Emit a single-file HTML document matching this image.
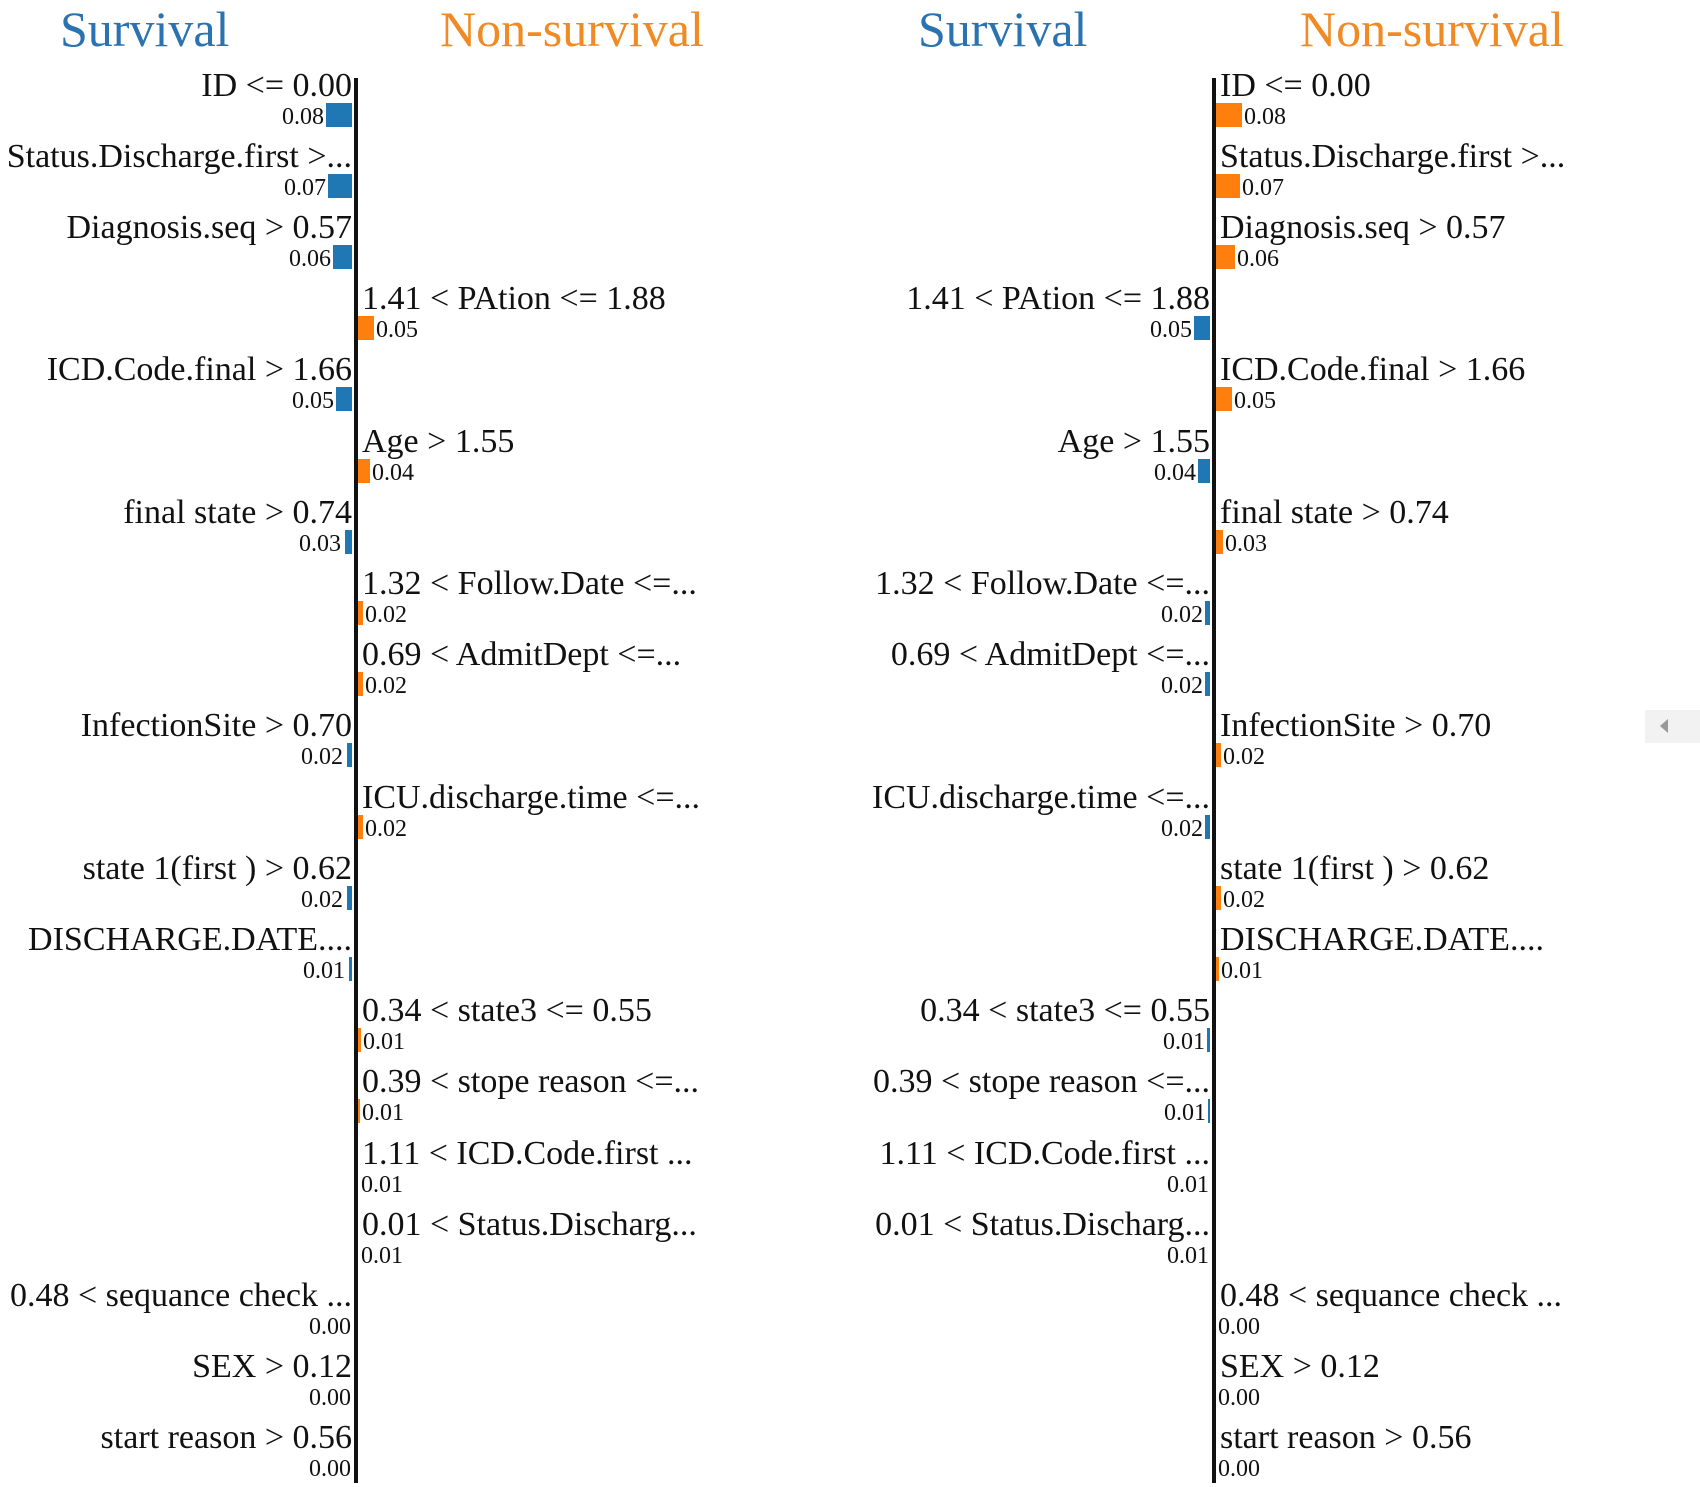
<!DOCTYPE html>
<html><head><meta charset="utf-8"><style>
body{margin:0;background:#fff;}
#p{position:relative;width:1700px;height:1487px;overflow:hidden;background:#fff;font-family:"Liberation Serif",serif;color:#111;}
.t{position:absolute;top:0;font-size:50px;line-height:58px;}
.ax{position:absolute;top:78px;height:1405px;width:4px;background:#111;}
.r{position:absolute;left:0;width:1700px;height:70px;}
.r div{position:absolute;white-space:nowrap;}
.lb{top:-20px;font-size:34px;line-height:40px;}
.v{top:17px;font-size:24px;line-height:28px;}
.b{top:17px;height:24px;}
.B{background:#1f77b4;}.O{background:#ff7f0e;}
</style></head><body><div id="p">
<div class="t" style="left:60px;color:#2b72b0">Survival</div>
<div class="t" style="left:440px;color:#f08a24">Non-survival</div>
<div class="t" style="left:918px;color:#2b72b0">Survival</div>
<div class="t" style="left:1300px;color:#f08a24">Non-survival</div>
<div class="ax" style="left:354px"></div>
<div class="ax" style="left:1212px"></div>
<div style="position:absolute;left:1645px;top:710px;width:55px;height:33px;background:#f2f2f2"></div>
<div style="position:absolute;left:1660px;top:719px;width:0;height:0;border-top:7px solid transparent;border-bottom:7px solid transparent;border-right:8px solid #999"></div>

<div class="r" style="top:86px">
<div class="lb" style="right:1348px">ID &lt;= 0.00</div><div class="b B" style="left:326px;width:26px"></div><div class="v" style="right:1376px">0.08</div>
<div class="lb" style="left:1220px">ID &lt;= 0.00</div><div class="b O" style="left:1216px;width:26px"></div><div class="v" style="left:1244px">0.08</div></div>
<div class="r" style="top:157px">
<div class="lb" style="right:1348px">Status.Discharge.first &gt;...</div><div class="b B" style="left:328px;width:24px"></div><div class="v" style="right:1374px">0.07</div>
<div class="lb" style="left:1220px">Status.Discharge.first &gt;...</div><div class="b O" style="left:1216px;width:24px"></div><div class="v" style="left:1242px">0.07</div></div>
<div class="r" style="top:228px">
<div class="lb" style="right:1348px">Diagnosis.seq &gt; 0.57</div><div class="b B" style="left:333px;width:19px"></div><div class="v" style="right:1369px">0.06</div>
<div class="lb" style="left:1220px">Diagnosis.seq &gt; 0.57</div><div class="b O" style="left:1216px;width:19px"></div><div class="v" style="left:1237px">0.06</div></div>
<div class="r" style="top:299px">
<div class="lb" style="left:362px">1.41 &lt; PAtion &lt;= 1.88</div><div class="b O" style="left:358px;width:16px"></div><div class="v" style="left:376px">0.05</div>
<div class="lb" style="right:490px">1.41 &lt; PAtion &lt;= 1.88</div><div class="b B" style="left:1194px;width:16px"></div><div class="v" style="right:508px">0.05</div></div>
<div class="r" style="top:370px">
<div class="lb" style="right:1348px">ICD.Code.final &gt; 1.66</div><div class="b B" style="left:336px;width:16px"></div><div class="v" style="right:1366px">0.05</div>
<div class="lb" style="left:1220px">ICD.Code.final &gt; 1.66</div><div class="b O" style="left:1216px;width:16px"></div><div class="v" style="left:1234px">0.05</div></div>
<div class="r" style="top:442px">
<div class="lb" style="left:362px">Age &gt; 1.55</div><div class="b O" style="left:358px;width:12px"></div><div class="v" style="left:372px">0.04</div>
<div class="lb" style="right:490px">Age &gt; 1.55</div><div class="b B" style="left:1198px;width:12px"></div><div class="v" style="right:504px">0.04</div></div>
<div class="r" style="top:513px">
<div class="lb" style="right:1348px">final state &gt; 0.74</div><div class="b B" style="left:345px;width:7px"></div><div class="v" style="right:1359px">0.03</div>
<div class="lb" style="left:1220px">final state &gt; 0.74</div><div class="b O" style="left:1216px;width:7px"></div><div class="v" style="left:1225px">0.03</div></div>
<div class="r" style="top:584px">
<div class="lb" style="left:362px">1.32 &lt; Follow.Date &lt;=...</div><div class="b O" style="left:358px;width:5px"></div><div class="v" style="left:365px">0.02</div>
<div class="lb" style="right:490px">1.32 &lt; Follow.Date &lt;=...</div><div class="b B" style="left:1205px;width:5px"></div><div class="v" style="right:497px">0.02</div></div>
<div class="r" style="top:655px">
<div class="lb" style="left:362px">0.69 &lt; AdmitDept &lt;=...</div><div class="b O" style="left:358px;width:5px"></div><div class="v" style="left:365px">0.02</div>
<div class="lb" style="right:490px">0.69 &lt; AdmitDept &lt;=...</div><div class="b B" style="left:1205px;width:5px"></div><div class="v" style="right:497px">0.02</div></div>
<div class="r" style="top:726px">
<div class="lb" style="right:1348px">InfectionSite &gt; 0.70</div><div class="b B" style="left:347px;width:5px"></div><div class="v" style="right:1357px">0.02</div>
<div class="lb" style="left:1220px">InfectionSite &gt; 0.70</div><div class="b O" style="left:1216px;width:5px"></div><div class="v" style="left:1223px">0.02</div></div>
<div class="r" style="top:798px">
<div class="lb" style="left:362px">ICU.discharge.time &lt;=...</div><div class="b O" style="left:358px;width:5px"></div><div class="v" style="left:365px">0.02</div>
<div class="lb" style="right:490px">ICU.discharge.time &lt;=...</div><div class="b B" style="left:1205px;width:5px"></div><div class="v" style="right:497px">0.02</div></div>
<div class="r" style="top:869px">
<div class="lb" style="right:1348px">state 1(first ) &gt; 0.62</div><div class="b B" style="left:347px;width:5px"></div><div class="v" style="right:1357px">0.02</div>
<div class="lb" style="left:1220px">state 1(first ) &gt; 0.62</div><div class="b O" style="left:1216px;width:5px"></div><div class="v" style="left:1223px">0.02</div></div>
<div class="r" style="top:940px">
<div class="lb" style="right:1348px">DISCHARGE.DATE....</div><div class="b B" style="left:349px;width:3px"></div><div class="v" style="right:1355px">0.01</div>
<div class="lb" style="left:1220px">DISCHARGE.DATE....</div><div class="b O" style="left:1216px;width:3px"></div><div class="v" style="left:1221px">0.01</div></div>
<div class="r" style="top:1011px">
<div class="lb" style="left:362px">0.34 &lt; state3 &lt;= 0.55</div><div class="b O" style="left:358px;width:3px"></div><div class="v" style="left:363px">0.01</div>
<div class="lb" style="right:490px">0.34 &lt; state3 &lt;= 0.55</div><div class="b B" style="left:1207px;width:3px"></div><div class="v" style="right:495px">0.01</div></div>
<div class="r" style="top:1082px">
<div class="lb" style="left:362px">0.39 &lt; stope reason &lt;=...</div><div class="b O" style="left:358px;width:2px"></div><div class="v" style="left:362px">0.01</div>
<div class="lb" style="right:490px">0.39 &lt; stope reason &lt;=...</div><div class="b B" style="left:1208px;width:2px"></div><div class="v" style="right:494px">0.01</div></div>
<div class="r" style="top:1154px">
<div class="lb" style="left:362px">1.11 &lt; ICD.Code.first ...</div><div class="v" style="left:361px">0.01</div>
<div class="lb" style="right:490px">1.11 &lt; ICD.Code.first ...</div><div class="v" style="right:491px">0.01</div></div>
<div class="r" style="top:1225px">
<div class="lb" style="left:362px">0.01 &lt; Status.Discharg...</div><div class="v" style="left:361px">0.01</div>
<div class="lb" style="right:490px">0.01 &lt; Status.Discharg...</div><div class="v" style="right:491px">0.01</div></div>
<div class="r" style="top:1296px">
<div class="lb" style="right:1348px">0.48 &lt; sequance check ...</div><div class="v" style="right:1349px">0.00</div>
<div class="lb" style="left:1220px">0.48 &lt; sequance check ...</div><div class="v" style="left:1218px">0.00</div></div>
<div class="r" style="top:1367px">
<div class="lb" style="right:1348px">SEX &gt; 0.12</div><div class="v" style="right:1349px">0.00</div>
<div class="lb" style="left:1220px">SEX &gt; 0.12</div><div class="v" style="left:1218px">0.00</div></div>
<div class="r" style="top:1438px">
<div class="lb" style="right:1348px">start reason &gt; 0.56</div><div class="v" style="right:1349px">0.00</div>
<div class="lb" style="left:1220px">start reason &gt; 0.56</div><div class="v" style="left:1218px">0.00</div></div>
</div></body></html>
